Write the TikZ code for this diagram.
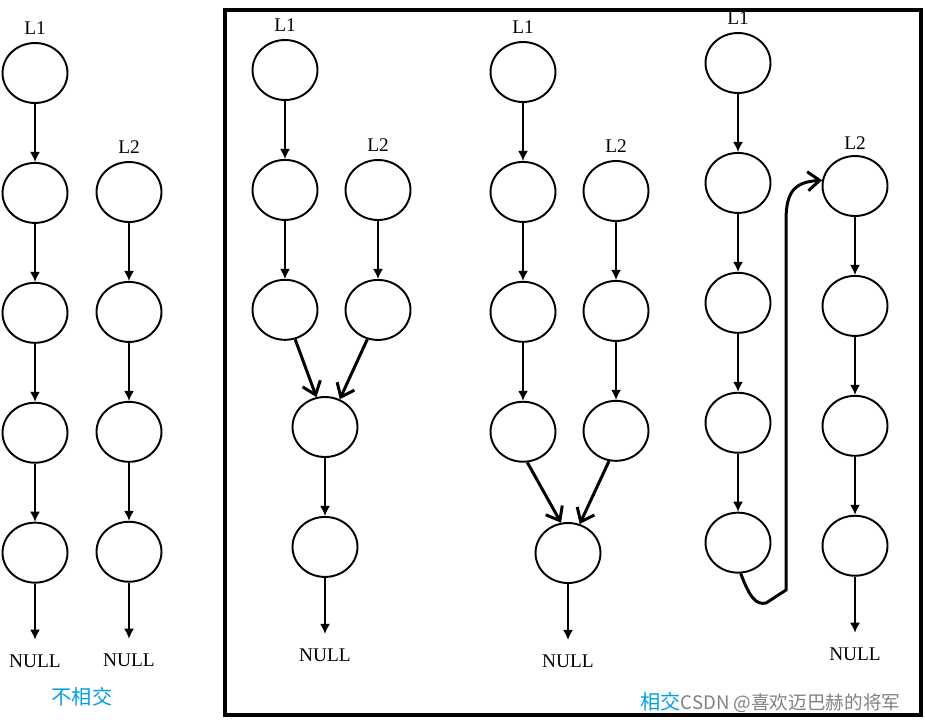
\documentclass[tikz,border=0pt]{standalone}
\usepackage{fontspec}
\setmainfont{Liberation Serif}
\newfontfamily\cjk{Noto Sans CJK SC}
\usetikzlibrary{arrows.meta,positioning,shapes.geometric}
\definecolor{tagblue}{RGB}{0,160,233}

\begin{document}
\begin{tikzpicture}[x=0.02cm,y=-0.02cm,
cell/.style={draw,ellipse,line width=1.1pt,minimum width=1.3cm,minimum height=1.2cm,inner sep=0pt},
lbl/.style={inner sep=0pt,font=\fontsize{11}{13}\selectfont},
arr/.style={-{Latex[length=2mm,width=2mm]},line width=0.9pt},
merge/.style={-{Straight Barb[length=2.4mm,width=3.8mm]},line width=1.7pt}]
\useasboundingbox (0,0) rectangle (925,721);
% no intersection
\node[cell](a1) at (35,73){};
\node[cell,below=1.16cm of a1](a2){};
\node[cell,below=1.16cm of a2](a3){};
\node[cell,below=1.16cm of a3](a4){};
\node[cell,below=1.16cm of a4](a5){};
\node[cell](b1) at (129,192){};
\node[cell,below=1.16cm of b1](b2){};
\node[cell,below=1.16cm of b2](b3){};
\node[cell,below=1.16cm of b3](b4){};
\node[lbl,above=0.15cm of a1](la){L1};
\node[lbl,above=0.15cm of b1](lb){L2};
\node[lbl,below=1.42cm of a5](na){NULL};
\node[lbl,below=1.42cm of b4](nb){NULL};
\draw[arr](a1)--(a2);
\draw[arr](a2)--(a3);
\draw[arr](a3)--(a4);
\draw[arr](a4)--(a5);
\draw[arr,shorten >=0.3cm](a5)--(na);
\draw[arr](b1)--(b2);
\draw[arr](b2)--(b3);
\draw[arr](b3)--(b4);
\draw[arr,shorten >=0.3cm](b4)--(nb);
\node[font=\cjk\fontsize{11.5}{14}\selectfont,text=tagblue](tag1) at (82,697){不相交};
% intersection
\draw[line width=1.8pt](225,10) rectangle (921,715);
\node[cell](c1) at (285,70){};
\node[cell,below=1.16cm of c1](c2){};
\node[cell,below=1.16cm of c2](c3){};
\node[cell](d1) at (378,190){};
\node[cell,below=1.16cm of d1](d2){};
\node[cell](m1) at (325,427){};
\node[cell,below=1.16cm of m1](m2){};
\node[lbl,above=0.15cm of c1](lc){L1};
\node[lbl,above=0.15cm of d1](ld){L2};
\node[lbl,below=1.42cm of m2](nm){NULL};
\draw[arr](c1)--(c2);
\draw[arr](c2)--(c3);
\draw[arr](d1)--(d2);
\draw[merge](c3.-71)--(m1.106);
\draw[merge](d2.-110)--(m1.62);
\draw[arr](m1)--(m2);
\draw[arr,shorten >=0.3cm](m2)--(nm);
\node[cell](e1) at (523,72){};
\node[cell,below=1.16cm of e1](e2){};
\node[cell,below=1.16cm of e2](e3){};
\node[cell,below=1.16cm of e3](e4){};
\node[cell](f1) at (616,191){};
\node[cell,below=1.16cm of f1](f2){};
\node[cell,below=1.16cm of f2](f3){};
\node[cell](m3) at (568,553){};
\node[lbl,above=0.15cm of e1](le){L1};
\node[lbl,above=0.15cm of f1](lf){L2};
\node[lbl,below=1.42cm of m3](nn){NULL};
\draw[arr](e1)--(e2);
\draw[arr](e2)--(e3);
\draw[arr](e3)--(e4);
\draw[arr](f1)--(f2);
\draw[arr](f2)--(f3);
\draw[merge](e4.-82)--(m3.103);
\draw[merge](f3.-103)--(m3.68);
\draw[arr,shorten >=0.3cm](m3)--(nn);
\node[cell](g1) at (738,63){};
\node[cell,below=1.16cm of g1](g2){};
\node[cell,below=1.16cm of g2](g3){};
\node[cell,below=1.16cm of g3](g4){};
\node[cell,below=1.16cm of g4](g5){};
\node[cell](h1) at (855,186){};
\node[cell,below=1.16cm of h1](h2){};
\node[cell,below=1.16cm of h2](h3){};
\node[cell,below=1.16cm of h3](h4){};
\node[lbl,above=0.15cm of g1](lg){L1};
\node[lbl,above=0.1cm of h1](lh){L2};
\node[lbl,below=1.42cm of h4](nh){NULL};
\draw[arr](g1)--(g2);
\draw[arr](g2)--(g3);
\draw[arr](g3)--(g4);
\draw[arr](g4)--(g5);
\draw[merge](g5.-85) .. controls (750,598) and (756,605) .. (766,603)--(786,590)--(786,220) .. controls (786,190) and (796,182) .. (h1.170);
\draw[arr](h1)--(h2);
\draw[arr](h2)--(h3);
\draw[arr](h3)--(h4);
\draw[arr,shorten >=0.3cm](h4)--(nh);
\node[anchor=west,inner sep=0pt](tag2) at (640,703){{\cjk\fontsize{11.5}{14}\selectfont\color{tagblue}相交}{\cjk\fontsize{10.6}{14}\selectfont\color{gray}CSDN @喜欢迈巴赫的将军}};
\end{tikzpicture}
\end{document}
